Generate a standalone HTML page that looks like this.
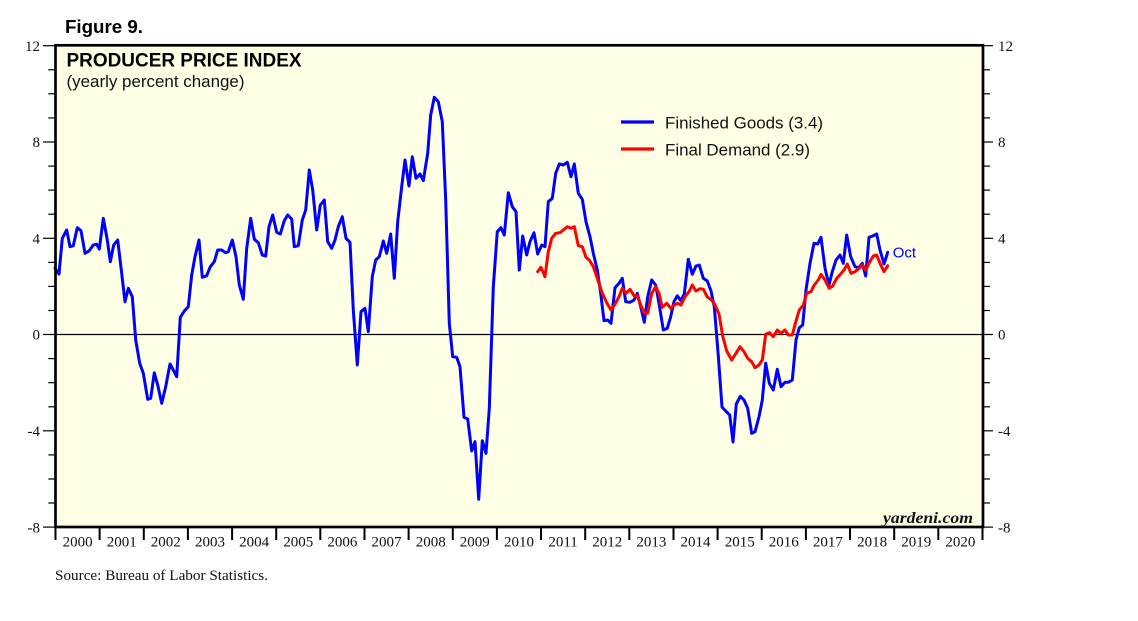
<!DOCTYPE html>
<html>
<head>
<meta charset="utf-8">
<style>
html,body{margin:0;padding:0;background:#ffffff;}
svg{display:block;}
</style>
</head>
<body>
<svg width="1138" height="621" viewBox="0 0 1138 621" xmlns="http://www.w3.org/2000/svg">
<rect x="0" y="0" width="1138" height="621" fill="#ffffff"/>
<!-- plot background -->
<rect x="55.5" y="45.3" width="927.5" height="481.7" fill="#FFFFE6"/>
<!-- zero line -->
<line x1="55.5" y1="334.5" x2="983" y2="334.5" stroke="#000" stroke-width="1.3"/>

<!-- left axis ticks -->
<g stroke="#000" stroke-width="1.2">
<line x1="43" y1="45.7" x2="55" y2="45.7"/>
<line x1="48.3" y1="69.8" x2="55" y2="69.8"/>
<line x1="48.3" y1="93.8" x2="55" y2="93.8"/>
<line x1="48.3" y1="117.9" x2="55" y2="117.9"/>
<line x1="43" y1="142" x2="55" y2="142"/>
<line x1="48.3" y1="166.1" x2="55" y2="166.1"/>
<line x1="48.3" y1="190.1" x2="55" y2="190.1"/>
<line x1="48.3" y1="214.2" x2="55" y2="214.2"/>
<line x1="43" y1="238.3" x2="55" y2="238.3"/>
<line x1="48.3" y1="262.4" x2="55" y2="262.4"/>
<line x1="48.3" y1="286.4" x2="55" y2="286.4"/>
<line x1="48.3" y1="310.5" x2="55" y2="310.5"/>
<line x1="43" y1="334.5" x2="55" y2="334.5"/>
<line x1="48.3" y1="358.6" x2="55" y2="358.6"/>
<line x1="48.3" y1="382.7" x2="55" y2="382.7"/>
<line x1="48.3" y1="406.8" x2="55" y2="406.8"/>
<line x1="43" y1="430.8" x2="55" y2="430.8"/>
<line x1="48.3" y1="454.9" x2="55" y2="454.9"/>
<line x1="48.3" y1="479" x2="55" y2="479"/>
<line x1="48.3" y1="503" x2="55" y2="503"/>
<line x1="43" y1="527.1" x2="55" y2="527.1"/>
</g>
<!-- right axis ticks -->
<g stroke="#000" stroke-width="1.2">
<line x1="984" y1="45.7" x2="993" y2="45.7"/>
<line x1="984" y1="69.8" x2="990" y2="69.8"/>
<line x1="984" y1="93.8" x2="990" y2="93.8"/>
<line x1="984" y1="117.9" x2="990" y2="117.9"/>
<line x1="984" y1="142" x2="993" y2="142"/>
<line x1="984" y1="166.1" x2="990" y2="166.1"/>
<line x1="984" y1="190.1" x2="990" y2="190.1"/>
<line x1="984" y1="214.2" x2="990" y2="214.2"/>
<line x1="984" y1="238.3" x2="993" y2="238.3"/>
<line x1="984" y1="262.4" x2="990" y2="262.4"/>
<line x1="984" y1="286.4" x2="990" y2="286.4"/>
<line x1="984" y1="310.5" x2="990" y2="310.5"/>
<line x1="984" y1="334.5" x2="993" y2="334.5"/>
<line x1="984" y1="358.6" x2="990" y2="358.6"/>
<line x1="984" y1="382.7" x2="990" y2="382.7"/>
<line x1="984" y1="406.8" x2="990" y2="406.8"/>
<line x1="984" y1="430.8" x2="993" y2="430.8"/>
<line x1="984" y1="454.9" x2="990" y2="454.9"/>
<line x1="984" y1="479" x2="990" y2="479"/>
<line x1="984" y1="503" x2="990" y2="503"/>
<line x1="984" y1="527.1" x2="993" y2="527.1"/>
</g>

<!-- year ticks -->
<g stroke="#000" stroke-width="2">
<line x1="55.5" y1="527" x2="55.5" y2="540"/>
<line x1="99.6" y1="527" x2="99.6" y2="540"/>
<line x1="143.8" y1="527" x2="143.8" y2="540"/>
<line x1="187.9" y1="527" x2="187.9" y2="540"/>
<line x1="232.1" y1="527" x2="232.1" y2="540"/>
<line x1="276.2" y1="527" x2="276.2" y2="540"/>
<line x1="320.3" y1="527" x2="320.3" y2="540"/>
<line x1="364.5" y1="527" x2="364.5" y2="540"/>
<line x1="408.6" y1="527" x2="408.6" y2="540"/>
<line x1="452.8" y1="527" x2="452.8" y2="540"/>
<line x1="496.9" y1="527" x2="496.9" y2="540"/>
<line x1="541" y1="527" x2="541" y2="540"/>
<line x1="585.2" y1="527" x2="585.2" y2="540"/>
<line x1="629.3" y1="527" x2="629.3" y2="540"/>
<line x1="673.5" y1="527" x2="673.5" y2="540"/>
<line x1="717.6" y1="527" x2="717.6" y2="540"/>
<line x1="761.7" y1="527" x2="761.7" y2="540"/>
<line x1="805.9" y1="527" x2="805.9" y2="540"/>
<line x1="850" y1="527" x2="850" y2="540"/>
<line x1="894.2" y1="527" x2="894.2" y2="540"/>
<line x1="938.3" y1="527" x2="938.3" y2="540"/>
<line x1="982.5" y1="527" x2="982.5" y2="540"/>
</g>

<!-- series -->
<polyline fill="none" stroke="#0000FF" stroke-width="3" stroke-linejoin="round" stroke-linecap="round" points="55,268.3 59,274 62.3,238.3 66.7,230 70,246.7 73.3,245.7 77.3,227.7 81,230.7 85,253.3 89,251 93.3,245 96.7,244.3 99.3,249 103.3,218.3 107.3,240 110.3,261.7 113.7,245 117.7,240 121.7,273.3 125,301.7 128.3,288.3 132.3,296.7 135.7,340 139.7,363.3 143.3,373.3 147.7,399.3 150.7,398.3 154.3,372.7 157.7,385 161.7,403.3 165.7,386.7 170,364 173.3,370 176.7,376.7 180.3,317.3 184.3,311 188.3,306.7 191.7,275 195,256.7 199,240 202.3,277.3 206.7,275.7 210.3,266.7 214.3,261.7 217.7,250 221.7,250 225.7,252.7 228.3,251.7 232.3,240 236,256.7 239.3,285 243.3,299.3 246.7,248.3 250.7,218.3 254.3,239.3 258.3,242.7 262.3,255 265.7,256 269,226.7 272.7,215 276.7,232.3 280.3,234 284.3,220.7 287.7,215 291.7,219 294.3,246.7 298.3,245.7 302.3,220 305.7,210 309.3,170 312.7,190 316.7,230 320.3,205 324.3,200 327.7,241.7 331.7,248.3 335,240 338.3,226.7 342.3,216.7 346,238.3 350,242.3 353.3,310 357.3,365 361,311.7 365,308.3 368.3,331.7 372.3,276.7 375.7,260 379.3,256.7 383.3,241 386.7,253.3 390.7,234 394.3,278.3 397.7,221.7 401.7,186.7 405,160 409,186 412.3,156.7 416,178.3 420,174 423.3,180.7 427.7,153.3 430.7,115 434.3,97.3 438.3,101.7 442.3,121.7 445.7,200 449.3,323.3 452.7,356.7 456.7,357.3 460,366.7 464,417.3 467.7,419 471.7,451 475,441.7 478.7,499.3 482.3,440.7 486,453.3 489.3,408.3 493.3,286.7 497.3,231.7 501,227.7 504.3,235 508.3,192.7 512.3,206.7 516,211.7 519.3,270 522.7,236 526.7,255 530,241.7 534,232.7 537.7,254 541.7,245 545,246.7 548.3,201.7 552.3,198.3 555.7,173.3 559.3,164 563.3,165 567.3,162.3 571,176.7 574.3,164 578.3,193.3 582.3,199.3 586,221.7 590,236.7 593.3,253.3 597.3,270 600.7,293.3 604,320.7 607.7,320 611,323.3 615,287.7 619,283.3 622.3,278.3 625.7,301.7 630,302.3 634,300 637.3,293.3 640.7,306.7 644.3,322.3 647.7,296.7 651.7,280 655.7,285 659,303.3 663.3,330 667.3,328.3 670.7,316.7 674,301.7 677.3,295.7 680.7,300.7 684.3,294 688.3,259.3 692.3,274.3 696,266 699.3,265 703.3,278.3 707.3,281 711,291 714.3,306.7 718.3,356 722,407 726.3,411.7 729.7,415 733,442 736.3,404 740.3,396.3 744,400 747.7,408.3 751.7,433.3 755,431.7 759,416.7 762.3,400 765.7,363.3 769.3,383.3 773.3,390 777.3,369.3 781,386.7 785,382.3 788.3,382.3 792.3,380 796,340 799.3,327.7 802.7,325 806,290 810,263.3 814,243.3 817.7,244 821,237.3 825,268.3 829,285 832.3,271.7 836,260 840,255 843.3,263.3 846.7,235 850.7,256.7 855,266.7 859,267.7 862.3,263.3 865.7,276 869,237.3 872.7,236 876.7,234 880,250 884,264 887.7,252.3"/>
<polyline fill="none" stroke="#FF0000" stroke-width="3" stroke-linejoin="round" stroke-linecap="round" points="537.7,271.7 541,267.3 545,276.7 548.3,251.7 551.7,238.3 555.7,233.3 560,232.7 563.3,230 567.3,226.7 571,228.3 574.3,226.7 578.3,245.7 582.3,246.7 586,257.3 589.3,260 593.3,266.7 597.3,278.3 601.7,291.7 606.7,302.7 611,310 615,304.3 619,296.7 622.3,288.3 626,293.3 630,289.3 634,295.7 637.3,295.7 640.7,305 644.3,313.3 647.7,313.3 651.7,293.3 655.7,286.7 659,293.3 662.3,307.3 666.7,303.3 670.7,308.3 674.3,305 677.7,303.3 681,305 685,296.7 689,291.7 692.3,285 696,291 700,288.7 703.3,289.2 707.3,297 711.7,300 715,305 719,314 722.7,336 726.7,351 731.7,360 736,353.3 740,346.7 744,351.7 747.7,358.3 751.7,361.7 755,367.7 759,365 762.3,360 765.7,334.3 769.3,332.7 773.3,336.7 777.3,330 781,333.3 785,330 788.3,335 792.3,335 796,321 799.3,310 803.3,305 806.7,293.3 811,291.7 814.3,285 818.3,280 821,274.3 825,280 829.3,288.3 832.7,286 836.7,278.3 840.7,274 844,270 847.3,264 851,273.3 855,271.7 859,268.3 862.3,265 865.7,270 869,263.3 873.3,256 876.7,255 880,263.3 884,271.7 887.7,265.7"/>

<!-- frame -->
<rect x="55.5" y="45.3" width="927.5" height="481.7" fill="none" stroke="#000" stroke-width="2.7"/>

<!-- legend -->
<line x1="621" y1="122" x2="654" y2="122" stroke="#0000FF" stroke-width="3.2"/>
<line x1="621" y1="149" x2="654" y2="149" stroke="#FF0000" stroke-width="3.2"/>
<g font-family="'Liberation Sans', Arial, sans-serif" font-size="16.8" fill="#111">
<text x="665" y="128.5" textLength="158" lengthAdjust="spacingAndGlyphs">Finished Goods (3.4)</text>
<text x="665" y="155.5" textLength="145" lengthAdjust="spacingAndGlyphs">Final Demand (2.9)</text>
</g>
<text x="892.7" y="257.7" font-family="'Liberation Sans', Arial, sans-serif" font-size="15" fill="#0000FF">Oct</text>

<!-- titles -->
<text x="65" y="33" font-family="'Liberation Sans', Arial, sans-serif" font-size="18.5" font-weight="bold" fill="#000" textLength="78" lengthAdjust="spacingAndGlyphs">Figure 9.</text>
<text x="66.5" y="66.7" font-family="'Liberation Sans', Arial, sans-serif" font-size="19" font-weight="bold" fill="#000" textLength="235" lengthAdjust="spacingAndGlyphs">PRODUCER PRICE INDEX</text>
<text x="66.5" y="87" font-family="'Liberation Sans', Arial, sans-serif" font-size="17" fill="#111" textLength="178" lengthAdjust="spacingAndGlyphs">(yearly percent change)</text>

<!-- left axis labels -->
<g font-family="'Liberation Serif', 'Times New Roman', serif" font-size="15" fill="#111" text-anchor="end">
<text x="40" y="51">12</text>
<text x="40" y="147.2">8</text>
<text x="40" y="243.5">4</text>
<text x="40" y="339.7">0</text>
<text x="40" y="436">-4</text>
<text x="40" y="532.3">-8</text>
</g>
<!-- right axis labels -->
<g font-family="'Liberation Serif', 'Times New Roman', serif" font-size="15" fill="#111">
<text x="998" y="51">12</text>
<text x="998" y="147.2">8</text>
<text x="998" y="243.5">4</text>
<text x="998" y="339.7">0</text>
<text x="998" y="436">-4</text>
<text x="998" y="532.3">-8</text>
</g>

<!-- year labels -->
<g font-family="'Liberation Serif', 'Times New Roman', serif" font-size="15" fill="#111" text-anchor="middle">
<text x="77.6" y="546.7">2000</text>
<text x="121.7" y="546.7">2001</text>
<text x="165.8" y="546.7">2002</text>
<text x="210" y="546.7">2003</text>
<text x="254.1" y="546.7">2004</text>
<text x="298.3" y="546.7">2005</text>
<text x="342.4" y="546.7">2006</text>
<text x="386.5" y="546.7">2007</text>
<text x="430.7" y="546.7">2008</text>
<text x="474.8" y="546.7">2009</text>
<text x="519" y="546.7">2010</text>
<text x="563.1" y="546.7">2011</text>
<text x="607.2" y="546.7">2012</text>
<text x="651.4" y="546.7">2013</text>
<text x="695.5" y="546.7">2014</text>
<text x="739.7" y="546.7">2015</text>
<text x="783.8" y="546.7">2016</text>
<text x="827.9" y="546.7">2017</text>
<text x="872.1" y="546.7">2018</text>
<text x="916.2" y="546.7">2019</text>
<text x="960.4" y="546.7">2020</text>
</g>

<text x="883" y="523" font-family="'Liberation Serif', 'Times New Roman', serif" font-size="16" font-style="italic" font-weight="bold" fill="#111" textLength="90" lengthAdjust="spacingAndGlyphs">yardeni.com</text>

<text x="55" y="580" font-family="'Liberation Serif', 'Times New Roman', serif" font-size="15" fill="#111" textLength="213" lengthAdjust="spacingAndGlyphs">Source: Bureau of Labor Statistics.</text>
</svg>
</body>
</html>
